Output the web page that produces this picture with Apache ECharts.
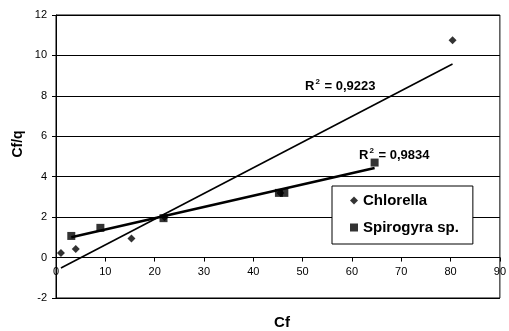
<!DOCTYPE html>
<html>
<head>
<meta charset="utf-8">
<script src="https://cdn.jsdelivr.net/npm/echarts@6/dist/echarts.min.js"></script>
<style>
  html, body { margin: 0; padding: 0; background: #fff; }
  #chart { width: 509px; height: 331px; }
</style>
</head>
<body>
<div id="chart"></div>
<script>
// Chlorella (diamonds)
var chlorellaX = [1, 4, 15.3, 22, 45.5, 80.4];
var chlorellaY = [0.22, 0.42, 0.94, 2.0, 3.2, 10.75];
// Spirogyra sp. (squares)
var spiroX = [3.1, 9, 21.8, 45.2, 46.3, 64.6];
var spiroY = [1.07, 1.47, 1.95, 3.2, 3.2, 4.7];
var r2Labels = ['0,9223', '0,9834'];
var FONT = '"Liberation Sans", Arial, sans-serif';

var GRID_TOP = 15, GRID_BOTTOM = 33, CHART_H = 331;
var Y_MIN = -2, Y_MAX = 12;
// x axis sits on y = 0 (Excel style), shift it up from the bottom of the plot
var plotH = CHART_H - GRID_TOP - GRID_BOTTOM;
var xAxisOffset = -plotH * (0 - Y_MIN) / (Y_MAX - Y_MIN);

function pairs(xs, ys) {
    return xs.map(function(x, i) { return [x, ys[i]]; });
}

// linear least squares trendline, spanning the data range (like Excel)
function trend(xs, ys) {
    var n = xs.length, mx = 0, my = 0, sxy = 0, sxx = 0;
    for (var i = 0; i < n; i++) { mx += xs[i]; my += ys[i]; }
    mx /= n; my /= n;
    for (var j = 0; j < n; j++) {
        sxy += (xs[j] - mx) * (ys[j] - my);
        sxx += (xs[j] - mx) * (xs[j] - mx);
    }
    var b = sxy / sxx, a = my - b * mx;
    var x0 = Math.min.apply(null, xs), x1 = Math.max.apply(null, xs);
    return [[x0, a + b * x0], [x1, a + b * x1]];
}

function r2Text(v) {
    return '{b|R}{s|2}{b| = ' + v + '}';
}
var r2Rich = {
    b: { fontFamily: FONT, fontWeight: 'bold', fontSize: 13, fill: '#000', lineHeight: 16 },
    s: { fontFamily: FONT, fontWeight: 'bold', fontSize: 8, fill: '#000', verticalAlign: 'top', lineHeight: 16, padding: [0, 1, 0, 1] }
};

var option = {
    animation: false,
    backgroundColor: '#fff',
    grid: {
        left: 56, right: 1, top: GRID_TOP, bottom: GRID_BOTTOM,
        show: true, borderColor: '#000', borderWidth: 1
    },
    legend: {
        orient: 'vertical',
        left: 332, top: 186,
        padding: [6, 14, 8, 18],
        itemGap: 10,
        itemWidth: 8, itemHeight: 8,
        backgroundColor: '#fff',
        borderColor: '#000', borderWidth: 1,
        textStyle: { fontFamily: FONT, fontWeight: 'bold', fontSize: 15, color: '#000', lineHeight: 17 },
        data: [
            { name: 'Chlorella', icon: 'diamond' },
            { name: 'Spirogyra sp.', icon: 'rect' }
        ]
    },
    xAxis: {
        type: 'value',
        min: 0, max: 90, interval: 10,
        offset: xAxisOffset,
        axisLine: { onZero: false, lineStyle: { color: '#000', width: 1 } },
        axisTick: { show: true, length: 4, lineStyle: { color: '#000' } },
        axisLabel: { color: '#000', fontFamily: FONT, fontSize: 11, margin: 9 },
        splitLine: { show: false }
    },
    yAxis: {
        type: 'value',
        min: Y_MIN, max: Y_MAX, interval: 2,
        axisLine: { show: true, lineStyle: { color: '#000', width: 1 } },
        axisTick: { show: true, length: 4, lineStyle: { color: '#000' } },
        axisLabel: { color: '#000', fontFamily: FONT, fontSize: 11, margin: 9 },
        splitLine: { show: true, lineStyle: { color: '#000', width: 1 } }
    },
    graphic: [
        {
            type: 'text', x: 18, y: 144, rotation: Math.PI / 2,
            style: { text: 'Cf/q', font: 'bold 14px ' + FONT, fill: '#000', align: 'center', verticalAlign: 'middle' }
        },
        {
            type: 'text', x: 282, y: 323,
            style: { text: 'Cf', font: 'bold 15px ' + FONT, fill: '#000', align: 'center', verticalAlign: 'middle' }
        },
        {
            type: 'text', x: 305, y: 86,
            style: { text: r2Text(r2Labels[0]), rich: r2Rich, verticalAlign: 'middle' }
        },
        {
            type: 'text', x: 359, y: 155,
            style: { text: r2Text(r2Labels[1]), rich: r2Rich, verticalAlign: 'middle' }
        }
    ],
    series: [
        {
            name: 'Chlorella trend', type: 'line', data: trend(chlorellaX, chlorellaY),
            symbol: 'none', lineStyle: { color: '#000', width: 1.6 }, z: 3, silent: true
        },
        {
            name: 'Spirogyra trend', type: 'line', data: trend(spiroX, spiroY),
            symbol: 'none', lineStyle: { color: '#000', width: 2.6 }, z: 3, silent: true
        },
        {
            name: 'Chlorella', type: 'scatter', data: pairs(chlorellaX, chlorellaY),
            symbol: 'diamond', symbolSize: 8, itemStyle: { color: '#000' }, z: 4
        },
        {
            name: 'Spirogyra sp.', type: 'scatter', data: pairs(spiroX, spiroY),
            symbol: 'rect', symbolSize: 8, itemStyle: { color: '#000' }, z: 5
        }
    ]
};

var myChart = echarts.init(document.getElementById('chart'), null, { renderer: 'canvas' });
myChart.setOption(option);
</script>
</body>
</html>
